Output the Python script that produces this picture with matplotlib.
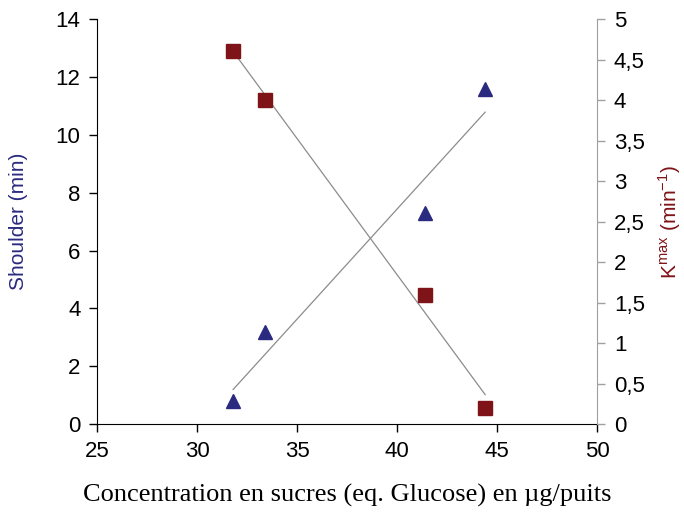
import numpy as np
import matplotlib.pyplot as plt

# Sugar concentration (eq. glucose), ug/well
conc = [31.8, 33.4, 41.4, 44.4]
# Shoulder (min), left axis
shoulder = [0.8, 3.2, 7.3, 11.6]
# Kmax (min^-1), right axis
kmax = [4.6, 4.0, 1.6, 0.2]

x_ticks = [25, 30, 35, 40, 45, 50]
y1_ticks = [0, 2, 4, 6, 8, 10, 12, 14]
y2_ticks = [0, 0.5, 1, 1.5, 2, 2.5, 3, 3.5, 4, 4.5, 5]
y2_labels = ['0', '0,5', '1', '1,5', '2', '2,5', '3', '3,5', '4', '4,5', '5']

blue = '#2a2a80'
red = '#7f1418'
grey = '#a0a0a0'

plt.rcParams['font.family'] = ['Liberation Sans', 'DejaVu Sans']
plt.rcParams['mathtext.fontset'] = 'custom'
plt.rcParams['mathtext.rm'] = 'Liberation Sans'

fig = plt.figure(figsize=(6.84, 5.16), dpi=100)
ax = fig.add_axes([0.142, 0.178, 0.731, 0.785])
ax2 = ax.twinx()

# linear trendlines over the data range
xs = np.array([min(conc), max(conc)])
p1 = np.polyfit(conc, shoulder, 1)
p2 = np.polyfit(conc, kmax, 1)
ax.plot(xs, np.polyval(p1, xs), color='#8c8c8c', lw=0.9, zorder=1)
ax2.plot(xs, np.polyval(p2, xs), color='#8c8c8c', lw=0.9, zorder=1)

ax.plot(conc, shoulder, linestyle='none', marker='^', ms=10.5, color=blue, zorder=3)
ax2.plot(conc, kmax, linestyle='none', marker='s', ms=9.5, color=red, zorder=3)

ax.set_xlim(25, 50)
ax.set_ylim(0, 14)
ax2.set_ylim(0, 5)
ax.set_xticks(x_ticks)
ax.set_yticks(y1_ticks)
ax2.set_yticks(y2_ticks)
ax2.set_yticklabels(y2_labels)

for a in (ax, ax2):
    a.spines['top'].set_visible(False)
ax.spines['right'].set_visible(False)
ax2.spines['left'].set_visible(False)
ax2.spines['bottom'].set_visible(False)
ax2.spines['right'].set_color(grey)

ax.tick_params(axis='both', direction='out', length=6, width=1, labelsize=16, pad=6)
ax2.tick_params(axis='y', direction='out', length=6, width=1, color=grey, labelsize=16, pad=6)

ax.set_ylabel('Shoulder (min)', color=blue, fontsize=15, labelpad=20)
ax2.set_ylabel(r'K$^{\mathrm{max}}$ (min$^{\mathrm{-1}}$)', color=red, fontsize=15, labelpad=8)
ax.set_xlabel('Concentration en sucres (eq. Glucose) en µg/puits',
              family=['Liberation Serif', 'DejaVu Serif'], fontsize=19, labelpad=16)

fig.savefig('out.png', dpi=100)
